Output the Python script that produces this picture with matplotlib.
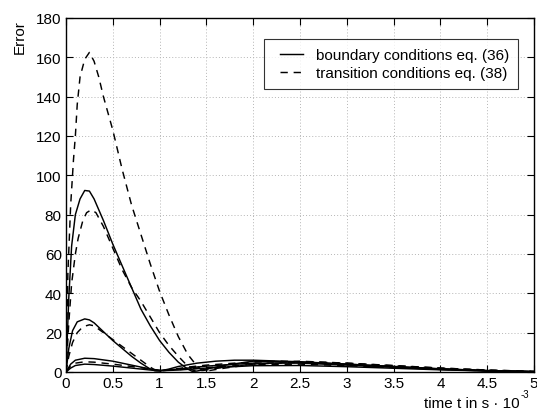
import matplotlib
matplotlib.use("Agg")
import matplotlib.pyplot as plt
from matplotlib.legend_handler import HandlerLine2D

plt.rcParams['font.family'] = ['Liberation Sans', 'DejaVu Sans']

# --- data (time in ms, error) ---
tA = [0, 0.03, 0.06, 0.1, 0.15, 0.2, 0.25, 0.3, 0.4, 0.5, 0.6, 0.7, 0.8, 0.9, 1.0, 1.1, 1.2, 1.3, 1.35, 1.4, 1.5, 1.7, 2.0, 2.5, 3.0, 3.5, 4.0, 4.5, 5.0]
yA = [0, 38, 64, 80, 88, 92.3, 92, 88, 77, 65, 54, 43, 32, 23.5, 16, 10, 5, 1.5, 0.3, 0.5, 1.5, 3.5, 5.5, 5.0, 3.8, 2.5, 1.3, 0.5, 0.1]

tB = [0, 0.03, 0.07, 0.12, 0.2, 0.25, 0.3, 0.4, 0.5, 0.6, 0.7, 0.8, 0.9, 0.95, 1.0, 1.1, 1.2, 1.4, 1.6, 1.8, 2.0, 2.5, 3.0, 3.5, 4.0, 4.5, 5.0]
yB = [0, 12, 21, 25.5, 27, 26.5, 25, 20.5, 16, 12, 8, 4.5, 1.5, 0.6, 0.5, 1.5, 2.8, 4.5, 5.5, 6.0, 6.0, 5.2, 4.0, 2.8, 1.6, 0.7, 0.2]

tF = [0, 0.05, 0.1, 0.2, 0.3, 0.5, 0.7, 0.9, 1.0, 1.2, 1.5, 2.0, 2.5, 3.0, 3.5, 4.0, 4.5, 5.0]
yF = [0, 4, 6, 7, 6.8, 5.5, 3.5, 1.5, 0.8, 1.5, 3, 4.5, 4.5, 3.5, 2.5, 1.5, 0.7, 0.2]
yG = [0, 2, 3.3, 4, 3.8, 3, 2, 1, 0.6, 1.0, 2.0, 3.2, 3.3, 2.7, 1.9, 1.1, 0.5, 0.1]

tC = [0, 0.02, 0.05, 0.08, 0.1, 0.12, 0.15, 0.2, 0.25, 0.3, 0.35, 0.4, 0.5, 0.6, 0.7, 0.8, 0.9, 1.0, 1.1, 1.2, 1.3, 1.4, 1.45, 1.5, 1.7, 2.0, 2.5, 3.0, 3.5, 4.0, 4.5, 5.0]
yC = [0, 50, 85, 108, 120, 136, 150, 159, 162.5, 158, 150, 140, 123, 103, 85, 70, 55, 41, 29, 18, 9, 3, 1, 0.5, 2, 4, 5, 4, 2.8, 1.6, 0.7, 0.2]

tD = [0, 0.03, 0.06, 0.1, 0.13, 0.18, 0.22, 0.27, 0.32, 0.4, 0.5, 0.6, 0.7, 0.8, 0.9, 1.0, 1.1, 1.2, 1.3, 1.35, 1.4, 1.5, 1.7, 2.0, 2.5, 3.0, 3.5, 4.0, 4.5, 5.0]
yD = [0, 25, 45, 60, 68, 77, 81, 82.5, 81, 74, 63, 52, 43, 36, 28, 20, 13.5, 8, 3, 1, 0.5, 1, 2.5, 4, 5.5, 4.5, 3.2, 2, 1, 0.3]

tE = [0, 0.03, 0.07, 0.12, 0.18, 0.25, 0.3, 0.4, 0.5, 0.6, 0.7, 0.8, 0.9, 0.95, 1.0, 1.1, 1.3, 1.5, 1.8, 2.0, 2.3, 2.7, 3.0, 3.5, 4.0, 4.5, 5.0]
yE = [0, 8, 15, 20, 23, 24, 23.5, 20, 16.5, 13, 9.5, 6, 2.5, 1, 0.5, 1, 2.5, 3.5, 4.5, 5, 5.5, 5, 4.5, 3.3, 2, 1, 0.3]

tH = tF
yH = [0, 3, 4.5, 5.2, 5, 4, 2.8, 1.5, 0.9, 1.2, 2.2, 3.8, 4.0, 3.2, 2.3, 1.4, 0.6, 0.15]

xticks = [0, 0.5, 1, 1.5, 2, 2.5, 3, 3.5, 4, 4.5, 5]
xticklabels = ['0', '0.5', '1', '1.5', '2', '2.5', '3', '3.5', '4', '4.5', '5']
yticks = [0, 20, 40, 60, 80, 100, 120, 140, 160, 180]


class PaddedLineHandler(HandlerLine2D):
    """Line handle with extra blank space on its left side."""
    def __init__(self, lpad=0.45, **kw):
        super().__init__(**kw)
        self.lpad = lpad

    def create_artists(self, legend, orig_handle, xdescent, ydescent, width, height, fontsize, trans):
        pad = self.lpad * fontsize
        return super().create_artists(legend, orig_handle, xdescent - pad, ydescent,
                                      width - pad, height, fontsize, trans)


W, H = 537, 410
fig = plt.figure(figsize=(W / 100, H / 100), dpi=100)
ax = fig.add_axes([66 / W, 1 - 373 / H, (534 - 66) / W, (373 - 19) / H])

lw = 1.05
dash = (5, 4)
solid_kw = dict(color='black', lw=lw)
dash_kw = dict(color='black', lw=lw, linestyle=(0, dash))

l1, = ax.plot(tA, yA, **solid_kw)
ax.plot(tB, yB, **solid_kw)
ax.plot(tF, yF, **solid_kw)
ax.plot(tF, yG, **solid_kw)
l2, = ax.plot(tC, yC, **dash_kw)
ax.plot(tD, yD, **dash_kw)
ax.plot(tE, yE, **dash_kw)
ax.plot(tH, yH, **dash_kw)

ax.set_xlim(0, 5)
ax.set_ylim(0, 180)
ax.set_xticks(xticks)
ax.set_xticklabels(xticklabels)
ax.set_yticks(yticks)
ax.grid(True, linestyle=(0, (1, 2.2)), color='#b5b5b5', lw=0.7)
ax.tick_params(direction='in', top=True, right=True, length=5, labelsize=11, pad=3, width=0.8)
for s in ax.spines.values():
    s.set_linewidth(1.0)

fig.text(20 / W, 1 - 37 / H, 'Error', rotation=90, ha='center', va='center', fontsize=11)
fig.text(520 / W, 1 - 408 / H, 'time t in s \u00b7 10', ha='right', va='baseline', fontsize=11)
fig.text(521 / W, 1 - 398 / H, '-3', ha='left', va='baseline', fontsize=7)

leg = ax.legend([l1, l2], ['boundary conditions eq. (36)', 'transition conditions eq. (38)'],
                loc='upper right', bbox_to_anchor=(518 / W, 1 - 40 / H), bbox_transform=fig.transFigure,
                borderaxespad=0, fontsize=11, frameon=True,
                fancybox=False, edgecolor='black', handlelength=1.95, handletextpad=0.8,
                borderpad=0.6, labelspacing=0.25,
                handler_map={l1: PaddedLineHandler(), l2: PaddedLineHandler()})
leg.get_frame().set_linewidth(0.8)

fig.savefig('out.png', dpi=100)
